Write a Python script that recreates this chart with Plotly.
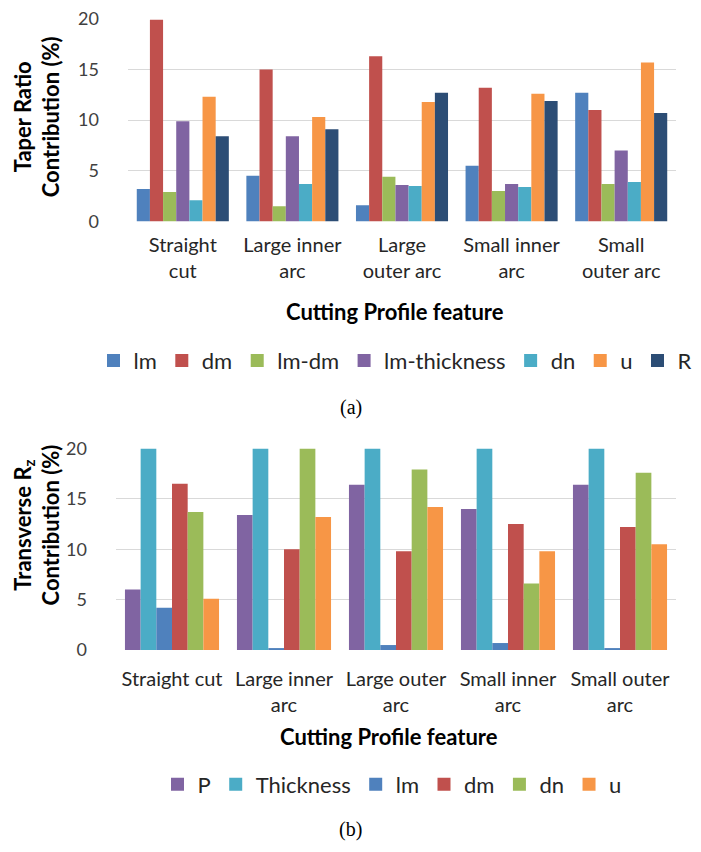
import plotly.graph_objects as go

categories_a = ["Straight<br>cut", "Large inner<br>arc", "Large<br>outer arc", "Small inner<br>arc", "Small<br>outer arc"]
categories_b = ["Straight cut", "Large inner<br>arc", "Large outer<br>arc", "Small inner<br>arc", "Small outer<br>arc"]

series_a_names = ["lm", "dm", "lm-dm", "lm-thickness", "dn", "u", "R"]
a_lm = [3.2, 4.5, 1.6, 5.5, 12.7]
a_dm = [19.9, 15.0, 16.3, 13.2, 11.0]
a_lm_dm = [2.9, 1.5, 4.4, 3.0, 3.7]
a_lm_thickness = [9.9, 8.4, 3.6, 3.7, 7.0]
a_dn = [2.1, 3.7, 3.5, 3.4, 3.9]
a_u = [12.3, 10.3, 11.8, 12.6, 15.7]
a_R = [8.4, 9.1, 12.7, 11.9, 10.7]

series_b_names = ["P", "Thickness", "lm", "dm", "dn", "u"]
b_P = [6.0, 13.4, 16.4, 14.0, 16.4]
b_thickness = [20.0, 20.0, 20.0, 20.0, 20.0]
b_lm = [4.2, 0.2, 0.5, 0.7, 0.2]
b_dm = [16.5, 10.0, 9.8, 12.5, 12.2]
b_dn = [13.7, 20.0, 17.9, 6.6, 17.6]
b_u = [5.1, 13.2, 14.2, 9.8, 10.5]

y_ticks = [0, 5, 10, 15, 20]

colors_a = ["#4F81BD", "#C0504D", "#9BBB59", "#8064A2", "#4BACC6", "#F79646", "#2C4D75"]
colors_b = ["#8064A2", "#4BACC6", "#4F81BD", "#C0504D", "#9BBB59", "#F79646"]

W, H = 701, 852
FONT = "Lato"

def fx(px):
    return px / W

def fy(py):
    return 1 - py / H

fig = go.Figure()

def add_series(names, values, colors, cats, xa, ya, leg):
    for name, vals, col in zip(names, values, colors):
        fig.add_trace(go.Bar(x=cats, y=vals, name=name, marker=dict(color=col, line=dict(width=0)),
                             xaxis=xa, yaxis=ya, showlegend=False, legendgroup=leg + name))
        # legend swatch (square, as in the reference)
        fig.add_trace(go.Scatter(x=[None], y=[None], mode="markers", name=name,
                                 marker=dict(symbol="square", size=13, color=col),
                                 xaxis=xa, yaxis=ya, legend=leg, legendgroup=leg + name,
                                 hoverinfo="skip"))

add_series(series_a_names, [a_lm, a_dm, a_lm_dm, a_lm_thickness, a_dn, a_u, a_R], colors_a,
           categories_a, "x", "y", "legend")
add_series(series_b_names, [b_P, b_thickness, b_lm, b_dm, b_dn, b_u], colors_b,
           categories_b, "x2", "y2", "legend2")

tick_font = dict(family=FONT, size=18, color="#404040")
cat_font = dict(family=FONT, size=20, color="#262626")
grid = dict(showgrid=True, gridcolor="#D9D9D9", gridwidth=1.3, zeroline=False)

fig.update_layout(
    width=W, height=H,
    margin=dict(l=0, r=0, t=0, b=0),
    paper_bgcolor="white", plot_bgcolor="white",
    barmode="group", bargap=0.16, bargroupgap=0,
    xaxis=dict(domain=[fx(128), fx(676)], anchor="y", type="category", categoryarray=categories_a,
               showline=False, ticks="", tickfont=cat_font, ticklabelstandoff=10, showgrid=False),
    yaxis=dict(domain=[fy(215), fy(7)], anchor="x", range=[0, 20], tickvals=y_ticks,
               tickfont=tick_font, ticks="", ticklabelstandoff=28, showline=False, **grid),
    xaxis2=dict(domain=[fx(116), fx(676)], anchor="y2", type="category", categoryarray=categories_b,
                showline=False, ticks="", tickfont=cat_font, ticklabelstandoff=15, showgrid=False),
    yaxis2=dict(domain=[fy(655), fy(448)], anchor="x2", range=[0, 20], tickvals=y_ticks,
                tickfont=tick_font, ticks="", ticklabelstandoff=28, showline=False, **grid),
    legend=dict(orientation="h", x=fx(395), y=fy(358), xanchor="center", yanchor="middle",
                font=dict(family=FONT, size=22, color="#262626"), bgcolor="rgba(0,0,0,0)",
                itemclick=False, itemdoubleclick=False),
    legend2=dict(orientation="h", x=fx(392), y=fy(793), xanchor="center", yanchor="middle",
                 font=dict(family=FONT, size=22, color="#262626"), bgcolor="rgba(0,0,0,0)",
                 itemclick=False, itemdoubleclick=False),
)

title_font = dict(family=FONT, size=22, color="black")
fig.add_annotation(text="<b>Taper Ratio<br>Contribution (%)</b>", textangle=-90, x=fx(37), y=fy(108),
                   xref="paper", yref="paper", showarrow=False, font=title_font, xanchor="center", yanchor="middle")
fig.add_annotation(text="<b>Transverse R<sub>z</sub><br>Contribution (%)</b>", textangle=-90, x=fx(37), y=fy(527),
                   xref="paper", yref="paper", showarrow=False, font=title_font, xanchor="center", yanchor="middle")
fig.add_annotation(text="<b>Cutting Profile feature</b>", x=fx(395), y=fy(307), xref="paper", yref="paper",
                   showarrow=False, font=title_font, xanchor="center", yanchor="middle")
fig.add_annotation(text="<b>Cutting Profile feature</b>", x=fx(389), y=fy(744), xref="paper", yref="paper",
                   showarrow=False, font=title_font, xanchor="center", yanchor="middle")
cap_font = dict(family="Liberation Serif", size=20, color="black")
fig.add_annotation(text="(a)", x=fx(351), y=fy(406), xref="paper", yref="paper", showarrow=False,
                   font=cap_font, xanchor="center", yanchor="middle")
fig.add_annotation(text="(b)", x=fx(351), y=fy(839), xref="paper", yref="paper", showarrow=False,
                   font=cap_font, xanchor="center", yanchor="middle")

fig.write_html("out.html", config={"displayModeBar": False},
               post_script="document.body.style.margin='0';document.body.style.padding='0';")
